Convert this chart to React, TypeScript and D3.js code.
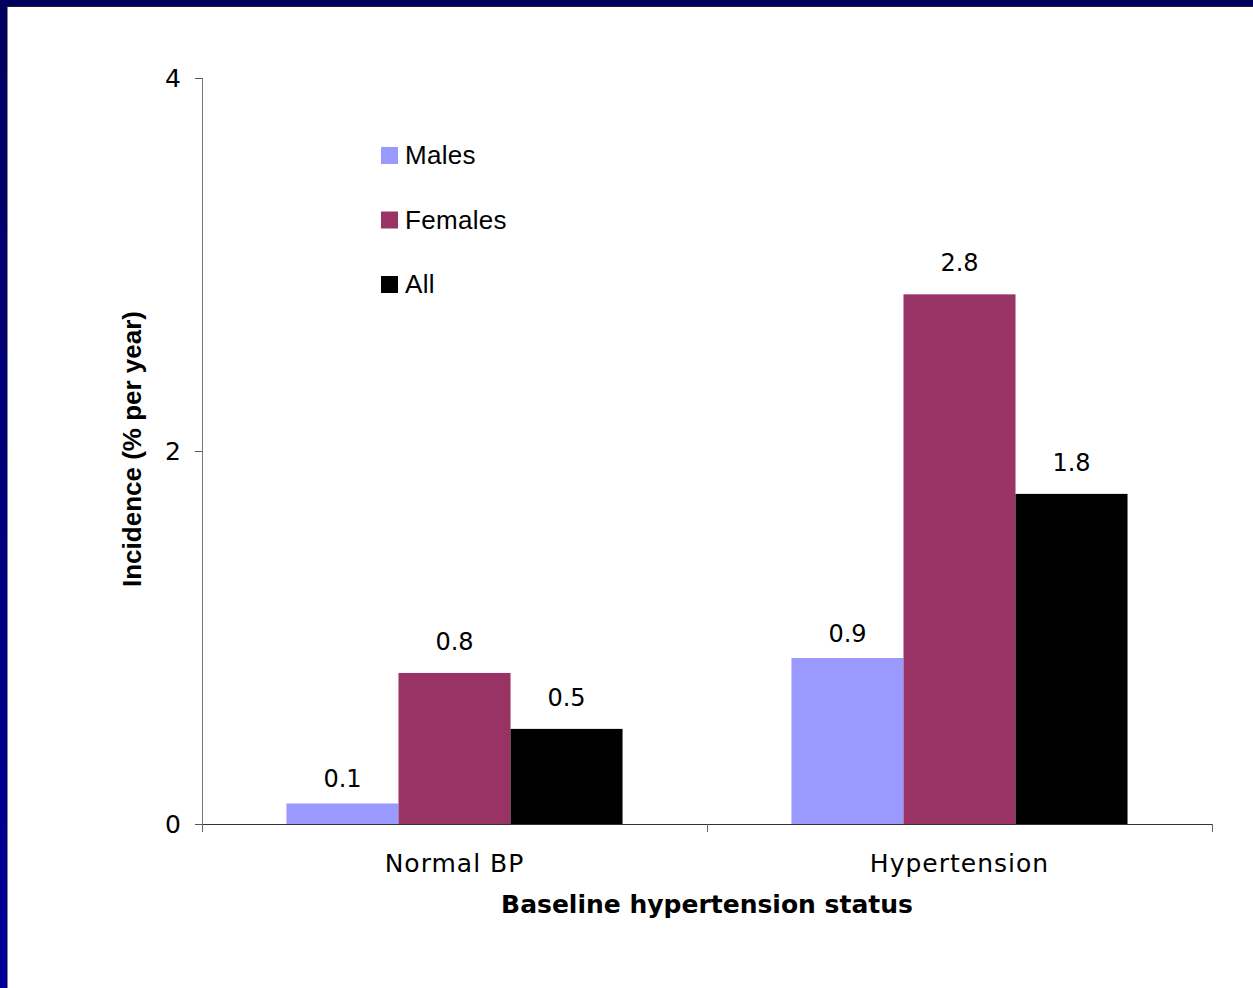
import React from "react";
import * as d3 from "d3";

// Baseline hypertension status groups
const categories = ["Normal BP", "Hypertension"];
const seriesNames = ["Males", "Females", "All"];
const seriesColors = ["#9999ff", "#993366", "#000000"];
// Incidence (% per year) for each series, per category
const males = [0.11, 0.89];
const females = [0.81, 2.84];
const all = [0.51, 1.77];
const yTicks = [0, 2, 4];

const W = 1253;
const H = 988;
const margin = { left: 202, right: 41, top: 78, bottom: 164 };
// label gap above each series' bars
const labelGap = [16, 23, 23];

export default function App() {
  const x0 = d3
    .scaleBand<string>()
    .domain(categories)
    .range([margin.left, W - margin.right])
    .paddingInner(0)
    .paddingOuter(0);
  const x1 = d3
    .scaleBand<string>()
    .domain(seriesNames)
    .range([0, x0.bandwidth()])
    .paddingInner(0)
    .paddingOuter(0.754);
  const y = d3.scaleLinear().domain([0, 4]).range([H - margin.bottom, margin.top]);
  const fmt = d3.format(".1f");
  const values = [males, females, all];
  const y0 = y(0);

  return (
    <svg
      width={W}
      height={H}
      style={{ position: "absolute", left: 0, top: 0, background: "#fff" }}
    >
      <defs>
        <linearGradient id="sideBand" x1="0" y1="0" x2="0" y2="1">
          <stop offset="0" stopColor="#000060" />
          <stop offset="1" stopColor="#00009a" />
        </linearGradient>
      </defs>
      {/* slide frame */}
      <rect x={0} y={0} width={W} height={H} fill="#fff" />
      <rect x={0} y={0} width={7} height={H} fill="url(#sideBand)" />
      <rect x={0} y={0} width={W} height={6} fill="#000060" />
      <line x1={7.5} y1={6} x2={7.5} y2={H} stroke="#888" strokeWidth={1} />
      <line x1={7} y1={6.5} x2={W} y2={6.5} stroke="#222" strokeWidth={1} />

      {/* bars */}
      {categories.map((c, ci) =>
        seriesNames.map((s, si) => (
          <rect
            key={c + s}
            x={(x0(c) as number) + (x1(s) as number)}
            y={y(values[si][ci])}
            width={x1.bandwidth()}
            height={y0 - y(values[si][ci])}
            fill={seriesColors[si]}
          />
        ))
      )}

      {/* value labels */}
      {categories.map((c, ci) =>
        seriesNames.map((s, si) => (
          <text
            key={"l" + c + s}
            x={(x0(c) as number) + (x1(s) as number) + x1.bandwidth() / 2}
            y={y(values[si][ci]) - labelGap[si]}
            textAnchor="middle"
            fontFamily="DejaVu Sans"
            fontSize={24}
            fill="#000"
          >
            {fmt(values[si][ci])}
          </text>
        ))
      )}

      {/* y axis */}
      <line x1={margin.left + 0.5} y1={y(4)} x2={margin.left + 0.5} y2={y0} stroke="#777" strokeWidth={1} />
      {yTicks.map((t) => (
        <g key={t}>
          <line x1={195} x2={margin.left} y1={Math.round(y(t)) + 0.5} y2={Math.round(y(t)) + 0.5} stroke="#555" />
          <text
            x={181}
            y={y(t) + 9}
            textAnchor="end"
            fontFamily="DejaVu Sans"
            fontSize={25}
            fill="#000"
          >
            {t}
          </text>
        </g>
      ))}

      {/* x axis */}
      <line x1={margin.left} y1={Math.round(y0) + 0.5} x2={W - margin.right + 1} y2={Math.round(y0) + 0.5} stroke="#333" strokeWidth={1} />
      {[...categories.map((c) => x0(c) as number), W - margin.right].map((t, i) => (
        <line key={i} x1={t + 0.5} x2={t + 0.5} y1={y0} y2={y0 + 8} stroke="#666" />
      ))}
      {categories.map((c) => (
        <text
          key={c}
          x={(x0(c) as number) + x0.bandwidth() / 2}
          y={872}
          textAnchor="middle"
          fontFamily="DejaVu Sans"
          fontSize={25}
          letterSpacing={1}
          fill="#000"
        >
          {c}
        </text>
      ))}

      {/* axis titles */}
      <text
        x={(margin.left + W - margin.right) / 2}
        y={913}
        textAnchor="middle"
        fontFamily="DejaVu Sans"
        fontWeight="bold"
        fontSize={25}
        fill="#000"
      >
        Baseline hypertension status
      </text>
      <text
        transform={`translate(141, ${449}) rotate(-90)`}
        textAnchor="middle"
        fontFamily="Liberation Sans"
        fontWeight="bold"
        fontSize={26}
        fill="#000"
      >
        Incidence (% per year)
      </text>

      {/* legend */}
      {seriesNames.map((s, i) => (
        <g key={s} transform={`translate(381, ${147 + i * 64.5})`}>
          <rect x={0} y={0} width={17} height={17} fill={seriesColors[i]} />
          <text x={24} y={17} fontFamily="Liberation Sans" fontSize={26} letterSpacing={0.3} fill="#000">
            {s}
          </text>
        </g>
      ))}
    </svg>
  );
}
